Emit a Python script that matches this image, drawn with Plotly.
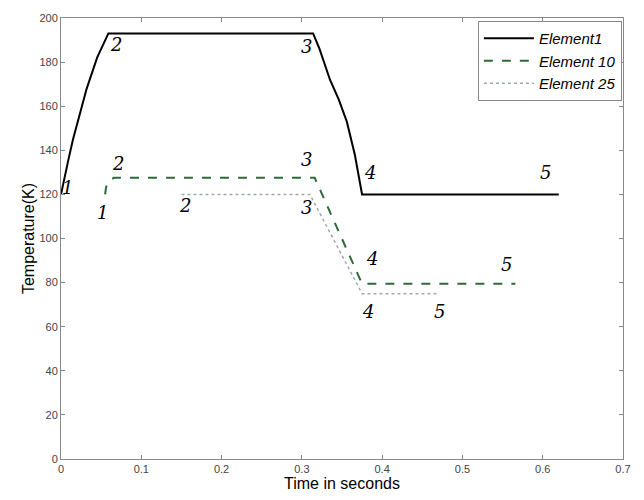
import plotly.graph_objects as go

# Temperature histories (time in s, temperature in K)
t_el1 = [0.0, 0.005, 0.010, 0.015, 0.022, 0.032, 0.045, 0.059,
         0.314, 0.322, 0.335, 0.346, 0.356, 0.366, 0.375, 0.62]
T_el1 = [120, 129, 137, 145, 155, 168, 182, 193,
         193, 186, 172, 163, 153, 138, 120, 120]

t_el10 = [0.055, 0.056, 0.058, 0.061, 0.066, 0.316, 0.375, 0.566]
T_el10 = [120, 123, 125, 126.5, 127.5, 127.5, 79.5, 79.5]

t_el25 = [0.15, 0.31, 0.375, 0.47]
T_el25 = [120, 120, 75, 75]

# Axis ticks
x_ticks = [0, 0.1, 0.2, 0.3, 0.4, 0.5, 0.6, 0.7]
x_tick_labels = ["0", "0.1", "0.2", "0.3", "0.4", "0.5", "0.6", "0.7"]
y_ticks = [0, 20, 40, 60, 80, 100, 120, 140, 160, 180, 200]

# Stage numbers marked along each curve
stage_text = ["1", "2", "3", "4", "5",
              "1", "2", "3", "4", "5",
              "2", "3", "4", "5"]
stage_x = [0.008, 0.069, 0.306, 0.385, 0.603,
           0.052, 0.071, 0.306, 0.387, 0.555,
           0.154, 0.306, 0.382, 0.472]
stage_y = [123, 188, 187, 130, 130,
           112, 134, 136, 91, 88,
           115, 114, 67, 67]

fig = go.Figure()
fig.add_trace(go.Scatter(x=t_el1, y=T_el1, mode="lines", name="<i>Element1</i>",
                         line=dict(color="black", width=2)))
fig.add_trace(go.Scatter(x=t_el10, y=T_el10, mode="lines", name="<i>Element 10</i>",
                         line=dict(color="#2f6b3a", width=2, dash="dash")))
fig.add_trace(go.Scatter(x=t_el25, y=T_el25, mode="lines", name="<i>Element 25</i>",
                         line=dict(color="#a0a8b0", width=1.5, dash="dot")))

for s, xx, yy in zip(stage_text, stage_x, stage_y):
    fig.add_annotation(x=xx, y=yy, text="<i>" + s + "</i>", showarrow=False,
                       font=dict(family="DejaVu Serif", size=18, color="black"))

axis_common = dict(showline=True, linecolor="#888888", linewidth=1, mirror="ticks",
                   ticks="inside", ticklen=4, tickcolor="#888888",
                   showgrid=False, zeroline=False,
                   tickfont=dict(family="Arial", size=11, color="#444444"))

fig.update_xaxes(range=[0, 0.7], tickvals=x_ticks, ticktext=x_tick_labels,
                 title=dict(text="Time in seconds", standoff=2,
                            font=dict(family="Arial", size=16, color="black")),
                 **axis_common)
fig.update_yaxes(range=[0, 200], tickvals=y_ticks,
                 title=dict(text="Temperature(K)", standoff=0,
                            font=dict(family="Arial", size=16, color="black")),
                 **axis_common)

fig.update_layout(
    width=644, height=500,
    margin=dict(l=61, r=21, t=15, b=40),
    plot_bgcolor="white", paper_bgcolor="white",
    showlegend=True,
    legend=dict(x=0.998, y=0.993, xanchor="right", yanchor="top",
                bordercolor="#888888", borderwidth=1, bgcolor="white",
                font=dict(family="Arial", size=15, color="black"),
                itemwidth=50, tracegroupgap=0),
)

fig.write_html("out.html")
